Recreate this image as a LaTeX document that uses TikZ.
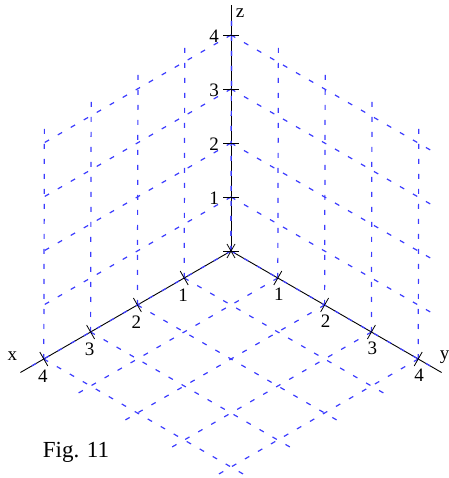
\documentclass[tikz,border=0pt]{standalone}
\usepackage{fontspec}
\setmainfont{Liberation Serif}
\definecolor{gridblue}{RGB}{60,60,255}
\begin{document}
\begin{tikzpicture}[
  x={(-46.8pt,-27pt)}, y={(46.8pt,-27pt)}, z={(0pt,54pt)},
  gridline/.style={draw=gridblue, line width=1.2pt, dash pattern=on 5pt off 10pt},
  axisline/.style={draw=black, line width=0.9pt},
  tickline/.style={draw=black, line width=0.8pt},
  ticklabel/.style={font=\fontsize{19}{20}\selectfont, inner sep=0pt},
  axislabel/.style={font=\fontsize{19}{20}\selectfont, inner sep=0pt},
  caption/.style={font=\fontsize{23}{24}\selectfont, inner sep=0pt}
]
\useasboundingbox (-231pt,-227pt) rectangle (217pt,251pt);
% axes
\coordinate (O) at (0,0,0);
\coordinate (xe) at (4.5,0,0);
\coordinate (ye) at (0,4.5,0);
\coordinate (ze) at (0,0,4.55);
\draw[axisline] (O) -- (xe);
\draw[axisline] (O) -- (ye);
\draw[axisline] (O) -- (ze);
% grids
\foreach \i in {0,...,4} {
  % xz plane (vertical lines, tiny slant to avoid stroke snapping)
  \draw[gridline] (\i,0,0) -- ([xshift=0.6pt]\i,0,4.35);
  % yz plane
  \draw[gridline] (0,\i,0) -- ([xshift=0.6pt]0,\i,4.35);
  % xy plane
  \draw[gridline] (\i,0,0) -- (\i,4.35,0);
  \draw[gridline] (0,\i,0) -- (4.35,\i,0);
}
\foreach \i in {1,...,4} {
  \draw[gridline] (0,0,\i) -- (4,0,\i);
  \draw[gridline] (0,0,\i) -- (0,4.3,\i);
}
% ticks
\foreach \i in {0,...,4} {
  \draw[tickline] ([shift={(-4pt,7pt)}]\i,0,0) -- ([shift={(4pt,-7pt)}]\i,0,0);
  \draw[tickline] ([shift={(-4pt,-7pt)}]0,\i,0) -- ([shift={(4pt,7pt)}]0,\i,0);
  \draw[tickline] ([shift={(-8pt,0pt)}]0,0,\i) -- ([shift={(8pt,0pt)}]0,0,\i);
}
% tick labels
\foreach \i in {1,...,4} {
  \node[ticklabel] (xl\i) at (\i,0,0) [xshift=-1pt, yshift=-17pt] {\i};
  \node[ticklabel] (yl\i) at (0,\i,0) [xshift=1pt, yshift=-16pt] {\i};
  \node[ticklabel] (zl\i) at (0,0,\i) [xshift=-17pt, yshift=-1pt] {\i};
}
% axis labels
\node[axislabel] (xlab) at (xe) [xshift=-8pt, yshift=16pt] {x};
\node[axislabel] (ylab) at (ye) [xshift=3pt, yshift=15pt] {y};
\node[axislabel] (zlab) at (ze) [xshift=9pt, yshift=-8pt] {z};
% caption
\node[caption] (cap) at (-155pt,-201pt) {Fig. 11};
\end{tikzpicture}
\end{document}
